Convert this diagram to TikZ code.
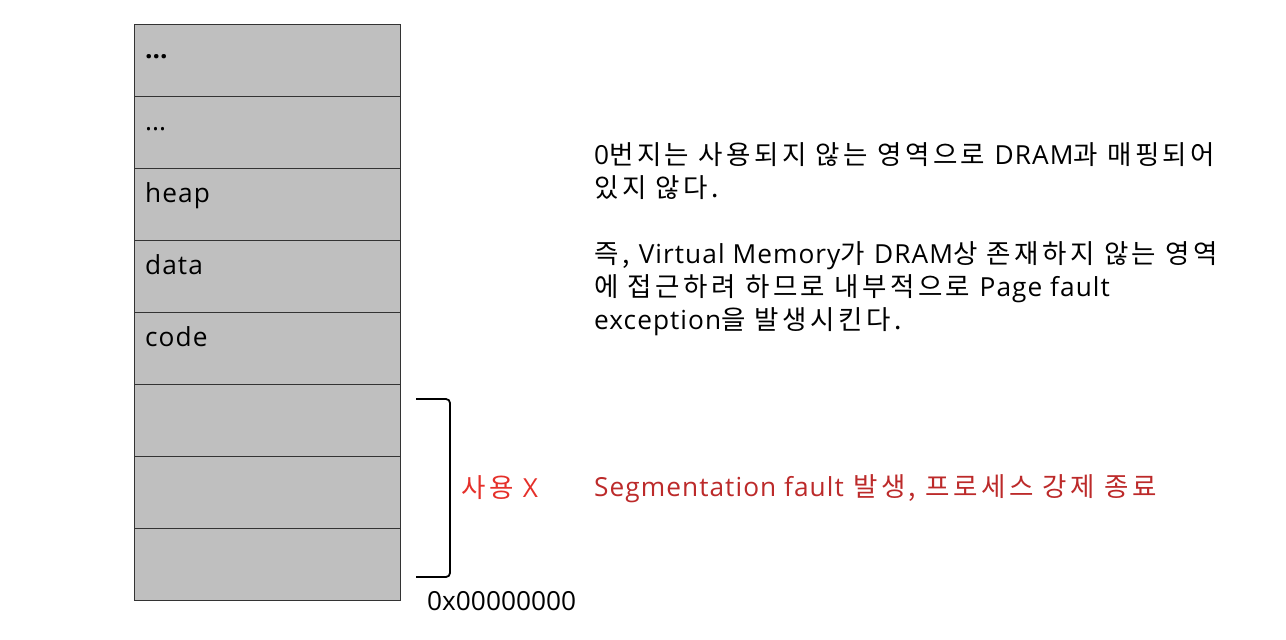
\documentclass[tikz,border=0pt]{standalone}
\usepackage{fontspec}
\setmainfont{Noto Sans CJK KR}[Scale=1.06,LetterSpace=13]
\newfontfamily\lat{Open Sans}[Scale=1.05,LetterSpace=4]
\newfontfamily\latn{Open Sans}[Scale=1.05]
\newcommand\la[1]{{\lat #1}}
\definecolor{cellgray}{HTML}{BFBFBF}
\definecolor{edgegray}{HTML}{333333}
\definecolor{brightred}{HTML}{E5302A}
\definecolor{darkred}{HTML}{BC2A2A}
\begin{document}
\begin{tikzpicture}[x=1pt,y=-1pt,
  cell/.style={draw=edgegray,line width=1.4pt,fill=cellgray,minimum width=266pt,minimum height=72pt,inner sep=0pt,anchor=north west},
  lbl/.style={anchor=base west,font=\fontsize{25}{30}\selectfont,inner sep=0pt},
  para/.style={anchor=north west,align=left,font=\fontsize{25}{33}\selectfont,inner sep=0pt}]
\useasboundingbox (0,0) rectangle (1286,640);
\foreach \i/\n in {0/c1,1/c2,2/c3,3/c4,4/c5,5/c6,6/c7,7/c8}{
  \node[cell] (\n) at (134,{24+72*\i}) {};
}
\node[lbl,font=\fontsize{25}{30}\selectfont\latn\bfseries] (t1) at (145,58) {...};
\node[lbl] (t2) at (145,130) {\latn ...};
\node[lbl] (t3) at (145,202) {\la{heap}};
\node[lbl] (t4) at (145,274) {\la{data}};
\node[lbl] (t5) at (145,346) {\la{code}};
\coordinate (b1) at (416,399);
\coordinate (b2) at (416,577);
\draw[line width=1.8pt,rounded corners=4pt] (b1) -- (450,399) -- (450,577) -- (b2);
\node[lbl] (addr) at (427,610) {\latn 0x00000000};
\node[lbl,text=brightred] (unused) at (461,497) {사용 \la{X}};
\node[lbl,text=darkred] (seg) at (594,496) {\la{Segmentation fault} 발생, 프로세스 강제 종료};
\node[para] (p1) at (594,142) {\la{0}번지는 사용되지 않는 영역으로 \la{DRAM}과 매핑되어\\있지 않다.\\[33pt]즉, \la{Virtual Memory}가 \la{DRAM}상 존재하지 않는 영역\\에 접근하려 하므로 내부적으로 \la{Page fault}\\\la{exception}을 발생시킨다.};
\end{tikzpicture}
\end{document}
